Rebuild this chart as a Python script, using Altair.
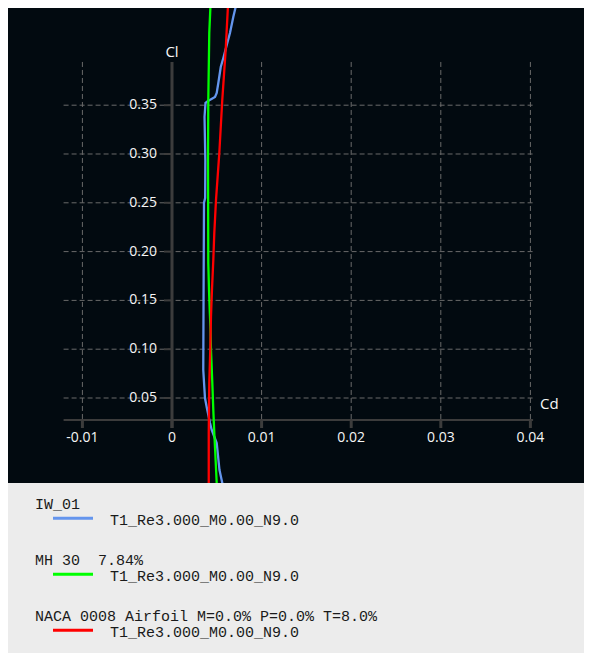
import altair as alt
import pandas as pd

# ---------------- data ----------------
SERIES = ["IW_01", "MH 30  7.84%", "NACA 0008 Airfoil M=0.0% P=0.0% T=8.0%"]
POLAR = "T1_Re3.000_M0.00_N9.0"
COLORS = ["#6495ED", "#00FF00", "#FF0000"]

iw_cl = [-0.0391, -0.0238, 0.0039, 0.0172, 0.0244, 0.0408, 0.0500, 0.0664, 0.0787,
         0.1504, 0.2498, 0.2550, 0.2939, 0.3379, 0.3523, 0.3543, 0.3584, 0.3625,
         0.3727, 0.3891, 0.3984, 0.4137, 0.4240, 0.4404, 0.4578]
iw_cd = [0.00566, 0.00530, 0.00499, 0.00443, 0.00424, 0.00387, 0.00368, 0.00357, 0.00349,
         0.00352, 0.00357, 0.00370, 0.00372, 0.00363, 0.00374, 0.00402, 0.00480, 0.00499,
         0.00517, 0.00544, 0.00573, 0.00617, 0.00647, 0.00684, 0.00729]

mh_cl = [-0.0371, -0.0064, 0.0141, 0.0377, 0.0654, 0.0992, 0.1197, 0.1402, 0.1607,
         0.1883, 0.2939, 0.3553, 0.4240, 0.4578]
mh_cd = [0.00499, 0.00483, 0.00472, 0.00461, 0.00450, 0.00435, 0.00430, 0.00421, 0.00413,
         0.00405, 0.00402, 0.00405, 0.00416, 0.00432]

naca_cl = [-0.0391, 0.0141, 0.0654, 0.0992, 0.1330, 0.1607, 0.1914, 0.2191, 0.2529,
           0.3010, 0.3553, 0.4066, 0.4578]
naca_cd = [0.00410, 0.00410, 0.00416, 0.00427, 0.00435, 0.00446, 0.00461, 0.00472, 0.00491,
           0.00528, 0.00561, 0.00599, 0.00628]

X_TICKS = [-0.01, 0, 0.01, 0.02, 0.03, 0.04]
X_LABELS = ["-0.01", "0", "0.01", "0.02", "0.03", "0.04"]
Y_TICKS = [0.05, 0.10, 0.15, 0.20, 0.25, 0.30, 0.35]
Y_LABELS = ["0.05", "0.10", "0.15", "0.20", "0.25", "0.30", "0.35"]

# visible window of the graph and extent of the drawn axes
VIEW_X = [-0.018304, 0.045982]
VIEW_Y = [-0.03709, 0.44959]
AXIS_X = [-0.0121, 0.0403]
AXIS_Y = [0.02746, 0.3943]

W, H = 576, 475
LEG_H = 170
BG_DARK = "#020a10"
BG_LIGHT = "#ececec"
GRID = "#6a6a6a"
AXIS_C = "#3c3c3c"
TXT = "#f6f6f6"
FONT = "Open Sans"

rows = []
for name, cds, cls in [(SERIES[0], iw_cd, iw_cl), (SERIES[1], mh_cd, mh_cl), (SERIES[2], naca_cd, naca_cl)]:
    for i, (cd, cl) in enumerate(zip(cds, cls)):
        rows.append({"series": name, "i": i, "cd": cd, "cl": cl})
curves = pd.DataFrame(rows)

xs = alt.Scale(domain=VIEW_X, nice=False, zero=False)
ys = alt.Scale(domain=VIEW_Y, nice=False, zero=False)
X = lambda f: alt.X(f, type="quantitative", scale=xs, axis=None)
Y = lambda f: alt.Y(f, type="quantitative", scale=ys, axis=None)

xt = pd.DataFrame({"v": X_TICKS, "lab": X_LABELS,
                   "y0": [AXIS_Y[0]] * len(X_TICKS), "y1": [AXIS_Y[1]] * len(X_TICKS)})
yt = pd.DataFrame({"v": Y_TICKS, "lab": Y_LABELS,
                   "x0": [AXIS_X[0]] * len(Y_TICKS), "x1": [AXIS_X[1]] * len(Y_TICKS),
                   "zero": [0.0] * len(Y_TICKS)})
xgrid = xt[xt["v"] != 0]
axes = pd.DataFrame({"xa": [AXIS_X[0]], "xb": [AXIS_X[1]], "ya": [AXIS_Y[0]], "yb": [AXIS_Y[1]],
                     "zero": [0.0]})

vgrid = alt.Chart(xgrid).mark_rule(color=GRID, strokeWidth=1, strokeDash=[5, 3]).encode(
    x=X("v"), y=Y("y1"), y2="y0")
hgrid = alt.Chart(yt).mark_rule(color=GRID, strokeWidth=1, strokeDash=[5, 3]).encode(
    y=Y("v"), x=X("x0"), x2="x1")
xaxis = alt.Chart(axes).mark_rule(color=AXIS_C, strokeWidth=2).encode(
    x=X("xa"), x2="xb", y=Y("ya"))
yaxis = alt.Chart(axes).mark_rule(color=AXIS_C, strokeWidth=3, y2Offset=8).encode(
    x=X("zero"), y=Y("yb"), y2="ya")
xticks = alt.Chart(xt).mark_rule(color=AXIS_C, strokeWidth=3, y2Offset=8).encode(
    x=X("v"), y=Y("y0"), y2="y0")
yticks = alt.Chart(yt).mark_rule(color=AXIS_C, strokeWidth=2, xOffset=-8).encode(
    y=Y("v"), x=X("zero"), x2="zero")
xlabels = alt.Chart(xt).mark_text(color=TXT, font=FONT, fontSize=14, align="center",
                                  baseline="middle", dy=18).encode(
    x=X("v"), y=Y("y0"), text="lab:N")
ylabels = alt.Chart(yt).mark_text(color=TXT, font=FONT, fontSize=14, align="right",
                                  baseline="middle", dx=-15).encode(
    y=Y("v"), x=X("zero"), text="lab:N")
cl_title = alt.Chart(axes).mark_text(color=TXT, font=FONT, fontSize=15, align="center",
                                     baseline="middle", dy=-10, text="Cl").encode(
    x=X("zero"), y=Y("yb"))
cd_title = alt.Chart(axes).mark_text(color=TXT, font=FONT, fontSize=15, align="left",
                                     baseline="middle", dx=7, dy=-16, text="Cd").encode(
    x=X("xb"), y=Y("ya"))
lines = alt.Chart(curves).mark_line(strokeWidth=2.3, clip=True).encode(
    x=X("cd"), y=Y("cl"),
    color=alt.Color("series:N", scale=alt.Scale(domain=SERIES, range=COLORS), legend=None),
    order="i:Q",
    detail="series:N",
)

plot = alt.layer(vgrid, hgrid, xaxis, yaxis, xticks, yticks, xlabels, ylabels,
                 cl_title, cd_title, lines).properties(
    width=W, height=H, view=alt.ViewBackground(fill=BG_DARK, strokeWidth=0)
)

# ---------------- legend block ----------------
leg = pd.DataFrame({
    "k": [0, 1, 2],
    "name": [s.replace("  ", " \u00a0") for s in SERIES],
    "polar": [POLAR] * 3,
    "color": COLORS,
})
lys = alt.Scale(domain=[-0.4696, 2.566], reverse=True, nice=False, zero=False)
LY = alt.Y("k:Q", scale=lys, axis=None)
leg_names = alt.Chart(leg).mark_text(font="Liberation Mono", fontSize=15, color="#1a1a1a",
                                     align="left", baseline="alphabetic").encode(
    x=alt.value(27), y=LY, text="name:N")
leg_lines = alt.Chart(leg).mark_rule(strokeWidth=3, yOffset=9).encode(
    x=alt.value(45), x2=alt.value(85), y=LY,
    color=alt.Color("color:N", scale=None))
leg_polar = alt.Chart(leg).mark_text(font="Liberation Mono", fontSize=15, color="#1a1a1a",
                                     align="left", baseline="alphabetic", dy=15.7).encode(
    x=alt.value(102), y=LY, text="polar:N")
legend = alt.layer(leg_names, leg_lines, leg_polar).properties(
    width=W, height=LEG_H, view=alt.ViewBackground(fill=BG_LIGHT, strokeWidth=0)
)

chart = alt.vconcat(plot, legend, spacing=0).properties(
    padding=0, background=BG_LIGHT
).configure_view(strokeWidth=0)

chart.save("out.html", embed_options={"renderer": "svg", "actions": False})
